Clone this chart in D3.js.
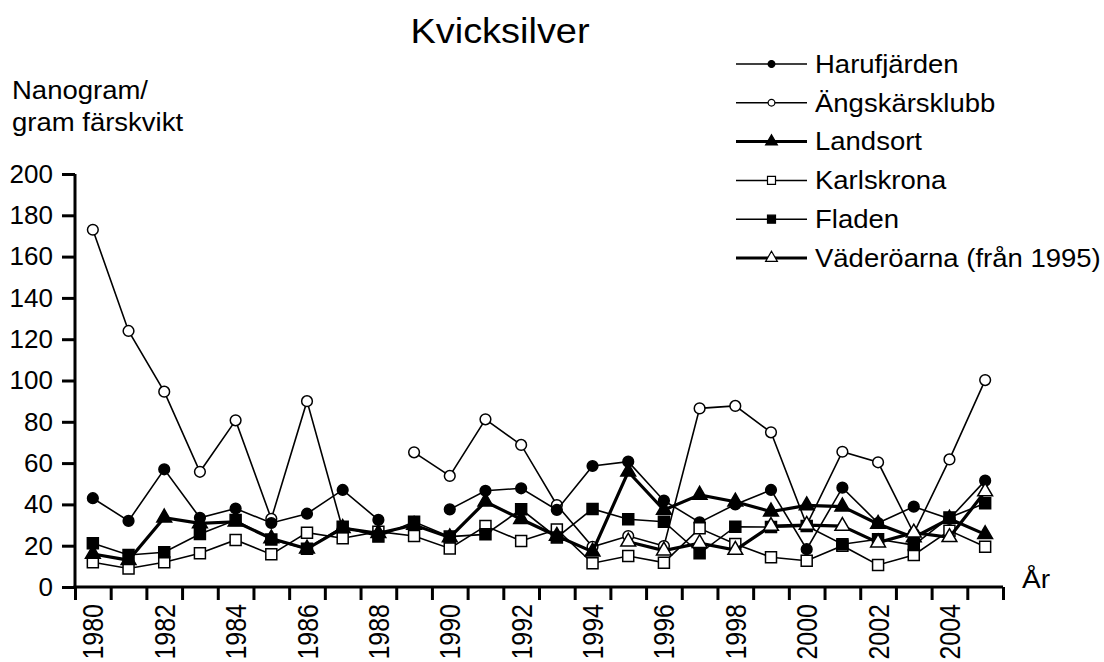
<!DOCTYPE html>
<html>
<head>
<meta charset="utf-8">
<script src="https://cdn.jsdelivr.net/npm/d3@7"></script>
<style>
body { margin: 0; background: #fff; }
text { font-family: "Liberation Sans", Arial, sans-serif; fill: #000; }
</style>
</head>
<body>
<svg id="chart" width="1104" height="662"></svg>
<script>
// data
var years = [1980, 1981, 1982, 1983, 1984, 1985, 1986, 1987, 1988, 1989, 1990, 1991, 1992,
    1993, 1994, 1995, 1996, 1997, 1998, 1999, 2000, 2001, 2002, 2003, 2004, 2005]
var yearLabels = [1980, 1982, 1984, 1986, 1988, 1990, 1992, 1994, 1996, 1998, 2000, 2002, 2004]
var yTicks = [0, 20, 40, 60, 80, 100, 120, 140, 160, 180, 200]

var harufjarden = [43, 32, 57, 33.5, 38, 31, 35.5, 47, 32.5, null, 37.6, 46.6, 47.8,
    37.3, 58.6, 60.7, 41.8, 31.3, 40, 47, 18.3, 48.1, 31, 38.9, 33, 51.5]
var angskarsklubb = [173, 124, 94.6, 55.8, 80.7, 33, 90, 28, null, 65.2, 53.8, 81.2, 68.8,
    39.7, 19.5, 24.7, 19.8, 86.5, 87.7, 74.9, 30, 65.5, 60.4, 26, 61.8, 100.2]
var landsort = [16, 13, 33.6, 30.8, 31.6, 23.5, 18.5, 28.5, 26, 30, 24, 41.3, 32.8,
    24.7, 17.1, 55.8, 37.3, 44.6, 41.3, 36.5, 39.5, 38.9, 30.5, 24, 33, 25.5]
var karlskrona = [12, 9, 12, 16.3, 22.8, 15.8, 26.3, 23.6, 26.8, 24.7, 18.7, 29.5, 22.3,
    27.9, 11.5, 15, 11.8, 28.4, 20.8, 14.4, 12.7, 20, 10.7, 15.5, 27.3, 19.5]
var fladen = [21.2, 15.5, 16.8, 25.7, 32.4, 23, 18.5, 29.2, 24.4, 31.6, 24.4, 25.5, 37.6,
    24, 37.8, 32.8, 31.6, 16.3, 29.2, 29, 29.5, 20.7, 23.1, 20.3, 33.7, 40.5]
var vaderoarna = [null, null, null, null, null, null, null, null, null, null, null, null, null,
    null, null, 21.9, 17.6, 21.2, 17.9, 29.5, 30, 29.5, 21.5, 26.3, 24.1, 46.2]

// legend order
var legendItems = [
    {name: "Harufjärden", values: harufjarden, shape: d3.symbolCircle, filled: true, thick: false},
    {name: "Ängskärsklubb", values: angskarsklubb, shape: d3.symbolCircle, filled: false, thick: false},
    {name: "Landsort", values: landsort, shape: d3.symbolTriangle, filled: true, thick: true},
    {name: "Karlskrona", values: karlskrona, shape: d3.symbolSquare, filled: false, thick: false},
    {name: "Fladen", values: fladen, shape: d3.symbolSquare, filled: true, thick: false},
    {name: "Väderöarna (från 1995)", values: vaderoarna, shape: d3.symbolTriangle, filled: false, thick: true}
]
// drawing order (bottom to top)
var drawOrder = [1, 0, 3, 2, 4, 5]

var svg = d3.select("#chart")

var x = d3.scaleLinear().domain([1979.5, 2005.5]).range([75, 1003])
var y = d3.scaleLinear().domain([0, 200]).range([587, 174])

function markerSize(shape, big) {
    if (shape === d3.symbolCircle) return big ? 90 : 36
    if (shape === d3.symbolSquare) return big ? 121 : 64
    return big ? 95 : 60
}

// axes
var bounds = years.map(d => d - 0.5).concat([2005.5])
var xAxis = svg.append("g")
    .attr("transform", "translate(0,587)")
    .call(d3.axisBottom(x).tickValues(bounds).tickSize(13).tickSizeOuter(0).tickFormat(""))
var yAxis = svg.append("g")
    .attr("transform", "translate(75,0)")
    .call(d3.axisLeft(y).tickValues(yTicks).tickSize(13).tickSizeOuter(0).tickPadding(9))

svg.selectAll(".domain").attr("stroke", "#000").attr("stroke-width", 3)
svg.selectAll(".tick line").attr("stroke", "#000").attr("stroke-width", 3)
yAxis.selectAll(".domain").attr("d", "M0,588.5V174")
xAxis.selectAll(".domain").attr("d", "M73.5,0H1003")
yAxis.selectAll(".tick text")
    .attr("font-size", 26)
    .attr("font-family", "Liberation Sans, Arial, sans-serif")
    .attr("fill", "#000")

svg.append("g").selectAll("text")
    .data(yearLabels)
    .enter()
    .append("text")
    .attr("transform", d => `translate(${x(d) + 10.5},604) scale(1.16,1) rotate(-90)`)
    .attr("text-anchor", "end")
    .attr("font-size", 25)
    .text(d => d)

// titles
svg.append("text")
    .attr("transform", "translate(500,43) scale(1.1,1)")
    .attr("text-anchor", "middle")
    .attr("font-size", 34.5)
    .text("Kvicksilver")
svg.append("text")
    .attr("transform", "translate(12,99) scale(1.1,1)")
    .attr("font-size", 25)
    .text("Nanogram/")
svg.append("text")
    .attr("transform", "translate(12,131) scale(1.1,1)")
    .attr("font-size", 25)
    .text("gram färskvikt")
svg.append("text")
    .attr("transform", "translate(1022,588) scale(1.08,1)")
    .attr("font-size", 26)
    .text("År")

// series
var line = d3.line()
    .defined(d => d.v != null)
    .x(d => x(d.year))
    .y(d => y(d.v))

drawOrder.forEach(function (i) {
    var s = legendItems[i]
    var pts = years.map((yr, j) => ({year: yr, v: s.values[j]}))
    var g = svg.append("g")
    g.append("path")
        .datum(pts)
        .attr("d", line)
        .attr("fill", "none")
        .attr("stroke", "#000")
        .attr("stroke-width", s.thick ? 3.2 : 1.6)
    g.selectAll("path.mark")
        .data(pts.filter(d => d.v != null))
        .enter()
        .append("path")
        .attr("class", "mark")
        .attr("transform", d => `translate(${x(d.year)},${y(d.v)})`)
        .attr("d", d3.symbol().type(s.shape).size(markerSize(s.shape, true)))
        .attr("fill", s.filled ? "#000" : "#fff")
        .attr("stroke", "#000")
        .attr("stroke-width", 1.5)
})

// legend
var legend = svg.append("g")
legendItems.forEach(function (s, i) {
    var ly = 64 + i * 38.8
    legend.append("line")
        .attr("x1", 736).attr("x2", 807)
        .attr("y1", ly).attr("y2", ly)
        .attr("stroke", "#000")
        .attr("stroke-width", s.thick ? 3 : 1.5)
    legend.append("path")
        .attr("transform", `translate(771.5,${ly})`)
        .attr("d", d3.symbol().type(s.shape).size(markerSize(s.shape, false)))
        .attr("fill", s.filled ? "#000" : "#fff")
        .attr("stroke", "#000")
        .attr("stroke-width", 1.2)
    legend.append("text")
        .attr("transform", `translate(815,${ly + 8.8}) scale(1.1,1)`)
        .attr("font-size", 25)
        .text(s.name)
})
</script>
</body>
</html>
